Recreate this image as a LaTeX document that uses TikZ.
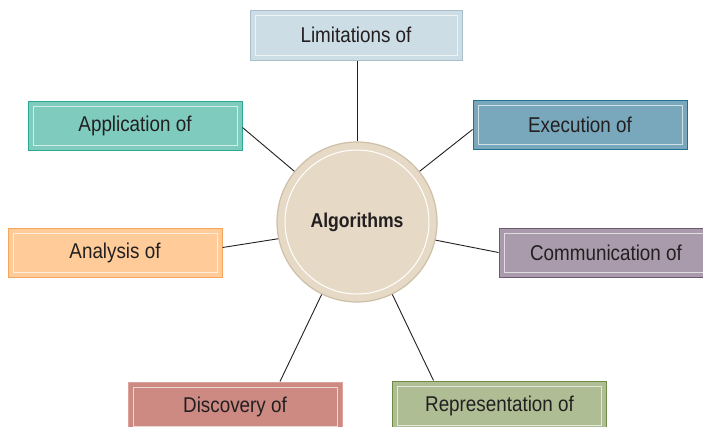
\documentclass[tikz,border=0pt]{standalone}
\usepackage{fontspec}
\setmainfont[FakeStretch=0.88]{Liberation Sans}
\definecolor{limF}{HTML}{CDDDE5}\definecolor{limB}{HTML}{A9BFCC}
\definecolor{appF}{HTML}{7FCCBF}\definecolor{appB}{HTML}{2AAA94}
\definecolor{exF}{HTML}{79A8BD}\definecolor{exB}{HTML}{22708F}
\definecolor{comF}{HTML}{A99BAB}\definecolor{comB}{HTML}{6E5A70}
\definecolor{anF}{HTML}{FFCC99}\definecolor{anB}{HTML}{F7A55C}
\definecolor{disF}{HTML}{CC8A82}\definecolor{disB}{HTML}{DDA29C}
\definecolor{repF}{HTML}{AFBD94}\definecolor{repB}{HTML}{6E8A47}
\definecolor{cF}{HTML}{E6DAC6}\definecolor{cB}{HTML}{CDBFA8}
\definecolor{txt}{HTML}{231F20}
\tikzset{
  topic/.style={draw=#1B, fill=#1F, line width=1pt, minimum width=214pt, minimum height=49pt,
    inner sep=0pt, text=txt, font=\fontsize{21.4}{24}\selectfont,
    path picture={\draw[white, line width=0.9pt, opacity=.65]
      ([shift={(5pt,-5pt)}]path picture bounding box.north west) rectangle
      ([shift={(-5pt,5pt)}]path picture bounding box.south east);}},
  hub/.style={circle, draw=cB, fill=cF, line width=1.2pt, minimum size=160pt, inner sep=0pt,
    text=txt, font=\fontsize{20}{24}\selectfont\bfseries,
    path picture={\draw[white, line width=1pt] (path picture bounding box.center) circle (72pt);}},
  conn/.style={draw=txt, line width=0.9pt}
}
\begin{document}
\begin{tikzpicture}[x=1pt,y=-1pt]
\useasboundingbox (0,0) rectangle (703,426);
\node[hub] (c) at (357,222) {Algorithms};
\node[topic=lim, minimum width=212pt, minimum height=50pt] (lim) at (356,35) {Limitations of};
\node[topic=app] (app) at (135,125.5) {Application of};
\node[topic=ex] (ex) at (580,124.5) {Execution of};
\node[topic=com] (com) at (606,252.5) {Communication of};
\node[topic=an] (an) at (115,252.5) {Analysis of};
\node[topic=dis] (dis) at (235,406.5) {Discovery of};
\node[topic=rep] (rep) at (499.5,405.5) {Representation of};
\draw[conn] (c.90) -- (c.90 |- lim.south);
\draw[conn] (c.141) -- ([yshift=-2pt]app.east);
\draw[conn] (c.39) -- ([yshift=-5pt]ex.west);
\draw[conn] (c.-13) -- (com.west);
\draw[conn] (c.-168) -- ([yshift=5pt]an.east);
\draw[conn] (c.-116) -- ([xshift=45pt]dis.north);
\draw[conn] (c.-64) -- ([xshift=-66pt]rep.north);
\end{tikzpicture}
\end{document}
